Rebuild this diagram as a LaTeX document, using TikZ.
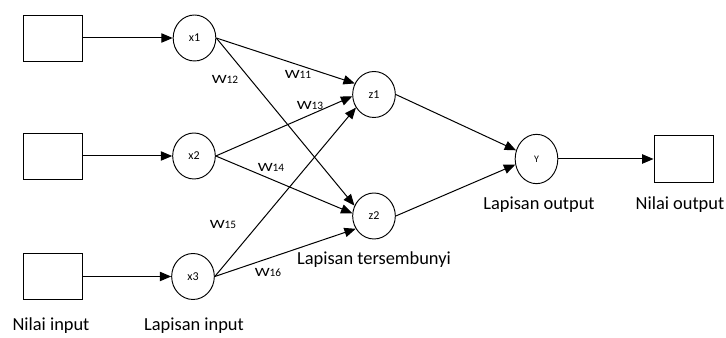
\documentclass[tikz,border=0pt]{standalone}
\usepackage{fontspec}
\setmainfont{Carlito}
\usetikzlibrary{shapes.geometric,arrows.meta}
\tikzset{
  valbox/.style={draw, rectangle, minimum width=44.25pt, minimum height=34.5pt, inner sep=0pt, line width=0.7pt},
  neuron/.style={draw, ellipse, minimum width=32pt, minimum height=34.5pt, inner sep=0pt, font=\fontsize{9}{10}\selectfont, line width=0.7pt},
  conn/.style={line width=0.75pt, -{Triangle[length=8.5pt,width=7pt]}},
  wlab/.style={inner sep=0pt},
  capt/.style={font=\fontsize{13.8}{16}\selectfont, inner sep=0pt}
}
\newcommand{\wlbl}[1]{\scalebox{1.4}[1.05]{\fontsize{9}{10}\selectfont W}{\fontsize{8.5}{10}\selectfont #1}}
\begin{document}
\begin{tikzpicture}[x=0.75pt,y=-0.75pt]
\useasboundingbox (0,0) rectangle (726,338);
% input boxes
\node[valbox] (b1) at (52.5,38) {};
\node[valbox] (b2) at (52.5,156) {};
\node[valbox] (b3) at (52.5,276.5) {};
% input neurons
\node[neuron] (x1) at (194.5,38) {x1};
\node[neuron] (x2) at (194,156) {x2};
\node[neuron] (x3) at (193,276.5) {x3};
% hidden
\node[neuron] (z1) at (374,94.5) {z1};
\node[neuron] (z2) at (374,216) {z2};
% output
\node[neuron, minimum height=37pt, font=\fontsize{7.5}{8}\selectfont] (y) at (536.5,159) {Y};
\node[valbox, minimum height=35pt] (out) at (683.5,159) {};
% connectors
\draw[conn] (b1.east) -- (x1.west);
\draw[conn] (b2.east) -- (x2.west);
\draw[conn] (b3.east) -- (x3.west);
\draw[conn] (x1.east) -- (z1.150);
\draw[conn] (x2.east) -- (z1.185);
\draw[conn] (x3.east) -- (z1.216);
\draw[conn] (x1.east) -- (z2.152);
\draw[conn] (x2.east) -- (z2.173);
\draw[conn] (x3.east) -- (z2.215);
\draw[conn] (z1.east) -- (y.157);
\draw[conn] (z2.east) -- (y.195);
\draw[conn] (y.east) -- (out.west);
% weights
\node[wlab] (w11) at (298,74) {\wlbl{11}};
\node[wlab] (w12) at (225,79) {\wlbl{12}};
\node[wlab] (w13) at (310,106) {\wlbl{13}};
\node[wlab] (w14) at (271,167) {\wlbl{14}};
\node[wlab] (w15) at (223,224) {\wlbl{15}};
\node[wlab] (w16) at (268,273) {\wlbl{16}};
% captions
\node[capt] (c1) at (51,326) {Nilai input};
\node[capt] (c2) at (194,326) {Lapisan input};
\node[capt] (c3) at (374,260) {Lapisan tersembunyi};
\node[capt] (c4) at (539,205) {Lapisan output};
\node[capt] (c5) at (680,205) {Nilai output};
\end{tikzpicture}
\end{document}
